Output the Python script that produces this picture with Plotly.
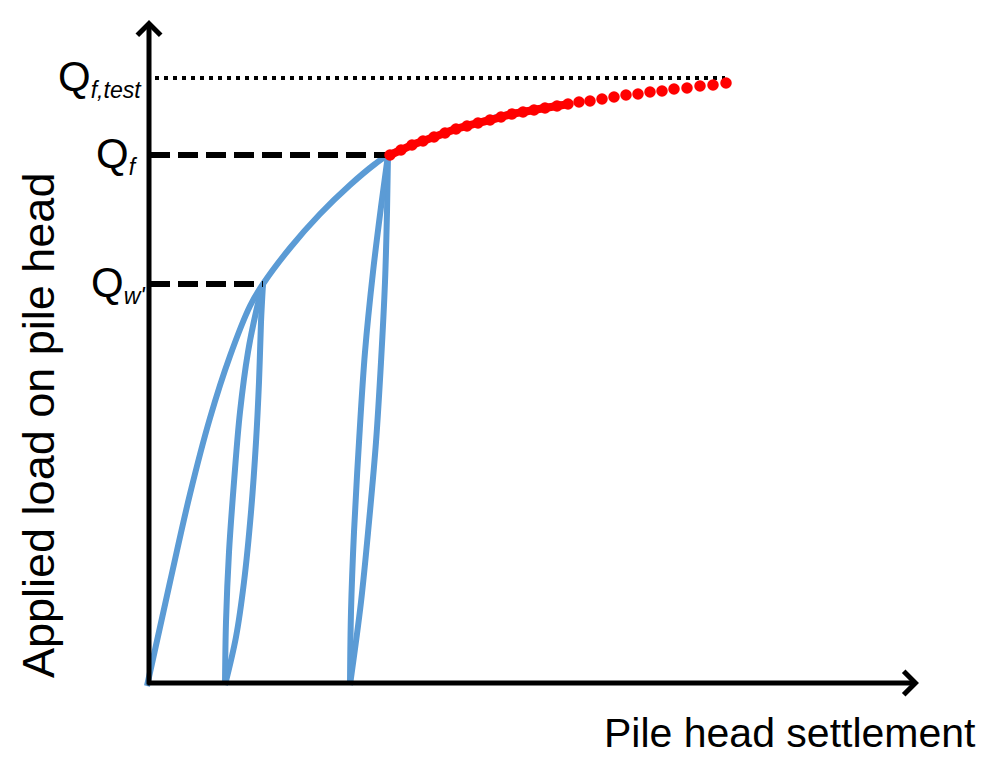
import plotly.graph_objects as go

# ---- data (settlement in arbitrary units from origin, load in arbitrary units) ----
# loading envelope (virgin curve)
env_s = [-3, 20, 40, 60, 80, 100, 113, 140, 170, 200, 225, 238, 263, 297, 330, 363, 397, 412]
env_q = [-4, 100, 188, 264, 326, 376, 398, 434, 468, 497, 518, 527, 537, 550, 560, 569, 575, 578]

# first unload / reload loop (from Qw')
unload1_s = [113, 111, 109, 106, 101, 94, 86, 75]
unload1_q = [398, 360, 300, 240, 170, 100, 45, -3]
reload1_s = [75, 76, 79, 84, 90, 98, 106, 113]
reload1_q = [-3, 60, 130, 200, 270, 330, 370, 398]

# second unload / reload loop (from Qf)
unload2_s = [238, 237, 235, 231, 226, 219, 211, 200]
unload2_q = [527, 470, 400, 320, 240, 160, 80, -3]
reload2_s = [200, 201, 204, 209, 215, 223, 231, 238]
reload2_q = [-3, 70, 150, 240, 330, 410, 475, 527]

# extrapolated test curve (red dots)
red_s = [240, 251, 262, 273, 284, 295, 306, 317, 328, 340, 351, 362, 373, 384, 395,
         407, 418, 429, 440, 452, 464, 476, 488, 500, 512, 524, 537, 550, 563, 576]
red_q = [527, 532, 537, 541, 545, 549, 553, 556, 559, 562, 565, 568, 570, 572, 574,
         576, 578, 580, 581, 583, 585, 587, 588, 590, 591, 593, 594, 596, 597, 599]
red_band_n = 17  # dots overlapping the measured curve

# load levels
Q_w = 398
Q_f = 527
Q_f_test = 604
s_w = 113
s_f = 238
s_test_end = 575

level_labels = [
    "<span style='font-size:42px'>Q</span><sub><i>f,test</i></sub>",
    "<span style='font-size:42px'>Q</span><sub><i>f</i></sub>",
    "<span style='font-size:42px'>Q</span><sub><i>w'</i></sub>",
]
x_title = "Pile head settlement"
y_title = "Applied load on pile head"

BLUE = "#5B9BD5"
RED = "#FF0000"
LW = 6

fig = go.Figure()

for xs, ys in [(env_s, env_q), (unload1_s, unload1_q), (reload1_s, reload1_q),
               (unload2_s, unload2_q), (reload2_s, reload2_q)]:
    fig.add_trace(go.Scatter(x=xs, y=ys, mode="lines",
                             line=dict(color=BLUE, width=LW, shape="spline", smoothing=1.0),
                             hoverinfo="skip"))

# dashed / dotted reference levels
fig.add_trace(go.Scatter(x=[0, s_w], y=[Q_w, Q_w], mode="lines",
                         line=dict(color="black", width=6, dash="20px,8px")))
fig.add_trace(go.Scatter(x=[0, s_f], y=[Q_f, Q_f], mode="lines",
                         line=dict(color="black", width=6, dash="20px,8px")))
fig.add_trace(go.Scatter(x=[5, s_test_end], y=[Q_f_test, Q_f_test], mode="lines",
                         line=dict(color="black", width=4, dash="4px,5px")))

# red dotted test curve
fig.add_trace(go.Scatter(x=red_s[:red_band_n], y=red_q[:red_band_n], mode="lines",
                         line=dict(color=RED, width=8, shape="spline")))
fig.add_trace(go.Scatter(x=red_s, y=red_q, mode="markers",
                         marker=dict(color=RED, size=11.5, line=dict(width=0))))

# axes arrows
fig.add_annotation(x=-1, y=662, ax=-1, ay=-4, xref="x", yref="y", axref="x", ayref="y",
                   text="", showarrow=True, arrowhead=4, arrowsize=0.9, arrowwidth=5,
                   arrowcolor="black", standoff=0)
fig.add_annotation(x=769, y=-1, ax=-4, ay=-1, xref="x", yref="y", axref="x", ayref="y",
                   text="", showarrow=True, arrowhead=4, arrowsize=0.9, arrowwidth=5,
                   arrowcolor="black", standoff=0)

# level labels
LABEL_FONT = dict(family="Liberation Sans, Arial, sans-serif", size=33, color="black")
for lvl, txt, xs, ys in [(Q_f_test, level_labels[0], -6, 0),
                         (Q_f, level_labels[1], -10, 0),
                         (Q_w, level_labels[2], -2, 0)]:
    fig.add_annotation(x=0, y=lvl, xref="x", yref="y", text=txt, showarrow=False,
                       xanchor="right", yanchor="middle", xshift=xs, yshift=ys,
                       font=LABEL_FONT)

TITLE_FONT = dict(family="Liberation Sans, Arial, sans-serif", color="black")
fig.add_annotation(x=978 / 983, y=1 - 733 / 759, xref="paper", yref="paper",
                   text=x_title, showarrow=False, xanchor="right", yanchor="middle",
                   font=dict(size=41, **TITLE_FONT))
fig.add_annotation(x=38 / 983, y=1 - 426 / 759, xref="paper", yref="paper",
                   text=y_title, showarrow=False, xanchor="center", yanchor="middle",
                   textangle=-90, font=dict(size=45, **TITLE_FONT))

fig.update_layout(
    width=983, height=759,
    margin=dict(l=0, r=0, t=0, b=0),
    paper_bgcolor="white", plot_bgcolor="white",
    showlegend=False,
    xaxis=dict(range=[-150, 833], visible=False, fixedrange=True),
    yaxis=dict(range=[-77, 682], visible=False, fixedrange=True),
)

fig.write_html("out.html",
               config={"displayModeBar": False},
               post_script="document.body.style.margin='0';document.body.style.padding='0';")
